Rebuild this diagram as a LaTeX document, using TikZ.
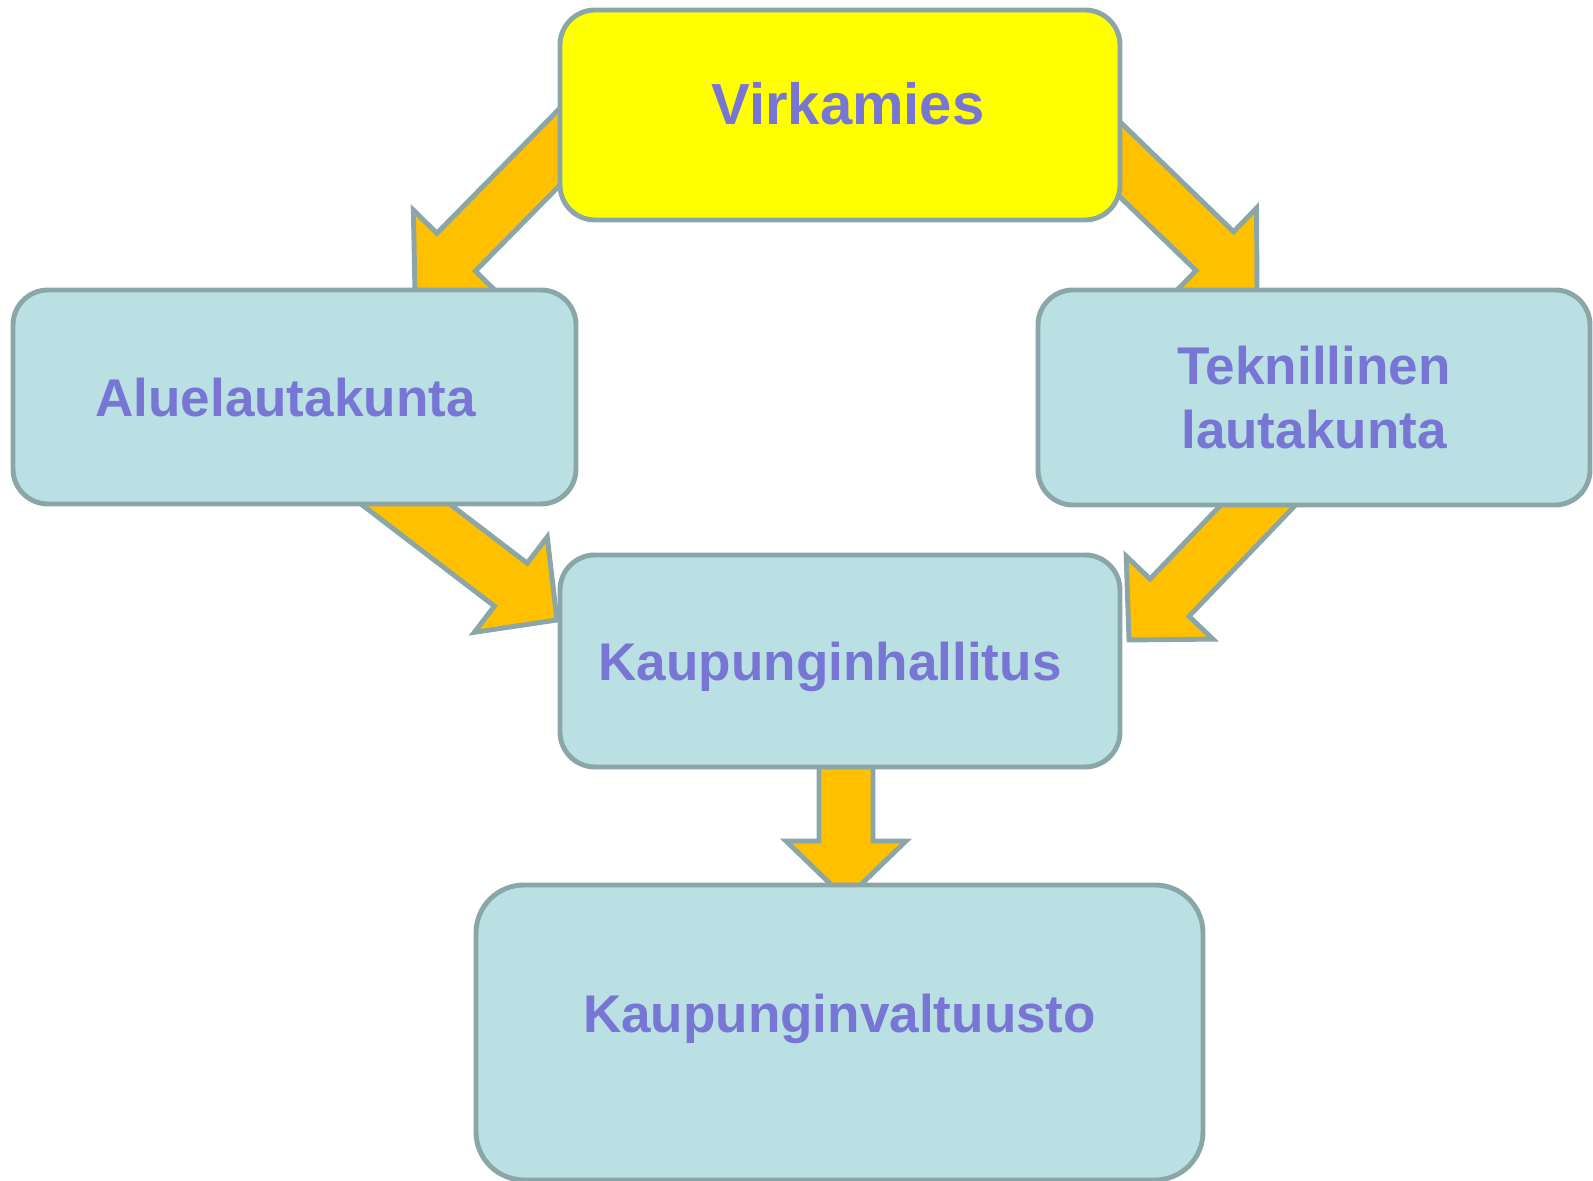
\documentclass[tikz,border=0pt]{standalone}
\usepackage{fontspec}
\setmainfont{Liberation Sans}
\usepackage{tikz}
\usetikzlibrary{calc}

\definecolor{edgegray}{HTML}{8AA6A8}
\definecolor{boxblue}{HTML}{BAE0E3}
\definecolor{boxyellow}{RGB}{255,255,0}
\definecolor{arrowgold}{HTML}{FFC000}
\definecolor{labelblue}{HTML}{7876D4}

\tikzset{
  box/.style={draw=edgegray, line width=1.4pt, fill=boxblue, rounded corners=0.35cm,
    inner sep=0pt, text=labelblue, align=center,
    font=\bfseries\fontsize{15.1}{18.2}\selectfont},
  arrowbody/.style={draw=edgegray, line width=1.4pt, fill=arrowgold, line join=miter},
}

% block arrow from #1 to the tip #2
\newcommand{\blockarrow}[2]{%
  \draw[arrowbody] let \p1=($(#2)-(#1)$), \n1={atan2(\y1,\x1)}, \n2={veclen(\x1,\y1)-16.5} in
    ($(#1)+(\n1+90:0.27)$) -- ($(#1)+(\n1:\n2)+(\n1+90:0.27)$)
    -- ($(#1)+(\n1:\n2)+(\n1+90:0.6)$) -- (#2)
    -- ($(#1)+(\n1:\n2)+(\n1-90:0.6)$) -- ($(#1)+(\n1:\n2)+(\n1-90:0.27)$)
    -- ($(#1)+(\n1-90:0.27)$) -- cycle;
}

\begin{document}
\begin{tikzpicture}
    \useasboundingbox (0,0) rectangle (15.93,11.81);

    % Arrow ends (hidden under the boxes)
    \coordinate (a1s) at (6.00,10.75);
    \coordinate (a1t) at (4.15,8.87);
    \coordinate (a2s) at (10.72,10.68);
    \coordinate (a2t) at (12.57,8.89);
    \coordinate (a3s) at (3.53,7.17);
    \coordinate (a3t) at (5.57,5.61);
    \coordinate (a4s) at (13.07,7.27);
    \coordinate (a4t) at (11.29,5.41);
    \coordinate (a5s) at (8.46,4.81);
    \coordinate (a5t) at (8.46,2.82);

    % Draw the arrows
    \blockarrow{a1s}{a1t}
    \blockarrow{a2s}{a2t}
    \blockarrow{a3s}{a3t}
    \blockarrow{a4s}{a4t}
    \blockarrow{a5s}{a5t}

    % Draw the boxes
    \node[box, fill=boxyellow, minimum width=5.60cm, minimum height=2.10cm,
      font=\bfseries\fontsize{16.5}{19.8}\selectfont, text height=0.45cm, text depth=0.25cm]
      (vk) at (8.40,10.66) {\hspace*{0.16cm}Virkamies};
    \node[box, minimum width=5.63cm, minimum height=2.14cm, text height=0.4cm, text depth=0cm]
      (al) at (2.945,7.84) {Aluelautakunta\hspace*{0.18cm}};
    \node[box, minimum width=5.52cm, minimum height=2.15cm]
      (tk) at (13.14,7.835) {Teknillinen\\lautakunta};
    \node[box, minimum width=5.60cm, minimum height=2.12cm, text height=0.4cm, text depth=0cm]
      (kh) at (8.40,5.20) {Kaupunginhallitus\hspace*{0.2cm}};
    \node[box, rounded corners=0.48cm, minimum width=7.27cm, minimum height=2.95cm,
      text height=0.4cm, text depth=0.4cm]
      (kv) at (8.395,1.485) {Kaupunginvaltuusto};
\end{tikzpicture}
\end{document}
